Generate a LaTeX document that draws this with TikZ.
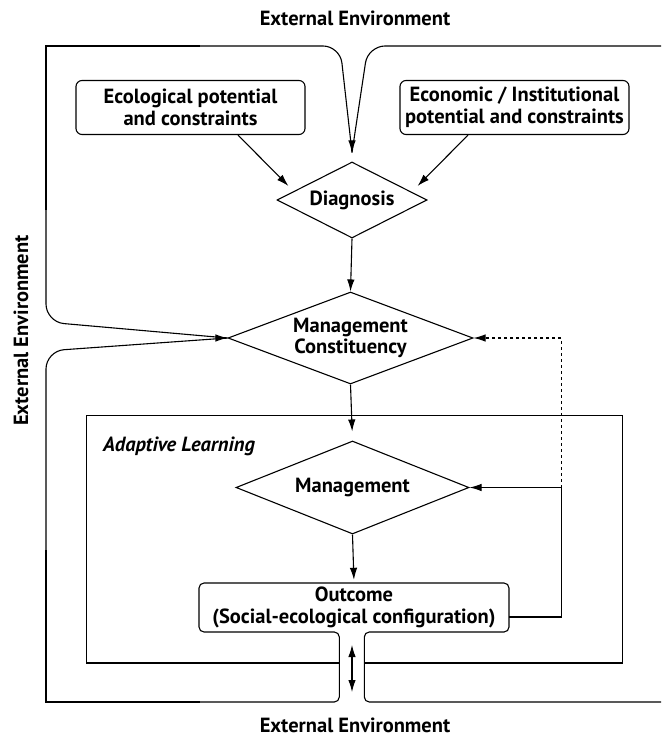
\documentclass[tikz,border=0pt]{standalone}
\usepackage{fontspec}
\setmainfont{PT Sans}
\usetikzlibrary{shapes.geometric,arrows.meta,calc}
\tikzset{
  base/.style={font=\fontsize{20.5}{21.5}\selectfont\bfseries, align=center},
  rbox/.style={base, draw, line width=1.1pt, rounded corners=6pt, minimum width=229pt, minimum height=54pt, inner sep=0pt},
  dia/.style={base, draw, line width=1.1pt, diamond, inner sep=0pt, aspect=2.6},
  arr/.style={-{Latex[length=12pt,width=7.5pt]}},
  ln/.style={line width=1.1pt},
  lbl/.style={font=\fontsize{20.5}{21.5}\selectfont\bfseries, inner sep=0pt, anchor=base}
}
\begin{document}
\begin{tikzpicture}[x=1pt,y=-1pt]
\useasboundingbox (0,0) rectangle (661,738);
% labels
\node[lbl] (ttop) at (355,26) {External Environment};
\node[lbl] (tbot) at (355,732) {External Environment};
\node[lbl, rotate=90] (tleft) at (28,330.5) {External Environment};
% nodes
\node[rbox] (eco) at (190.5,107.5) {Ecological potential\\and constraints};
\node[rbox] (econ) at (514.5,107.5) {Economic / Institutional\\potential and constraints};
\node[dia, minimum width=150pt, minimum height=76pt] (diag) at (352,200) {Diagnosis};
\node[dia, minimum width=245pt, minimum height=92pt] (mc) at (350.5,338) {Management\\Constituency};
\node[dia, minimum width=233pt, minimum height=93pt] (mgmt) at (352.5,487.5) {Management};
\node[base, minimum width=310pt, minimum height=49pt, inner sep=0pt] (outcome) at (354,607.5) {Outcome\\(Social-ecological configuration)};
\node[font=\fontsize{20.5}{21.5}\selectfont\bfseries\itshape, anchor=west, inner sep=0pt] (al) at (103,446) {Adaptive Learning};
% coordinates
\coordinate (dtip) at ($(diag.north)+(0,-9)$);
\coordinate (fb) at (561.5,487.5);
\coordinate (oc) at (509,617);
\coordinate (up) at (352,645);
\coordinate (dn) at (352,692);
% frame top
\draw[ln, rounded corners=18pt] (mc.west) -- (46,322) -- (46,200);
\draw[ln] (46,210) -- (46,46) -- (200,46);
\draw[ln, rounded corners=17pt] (190,46) -- (340,46) -- (dtip);
\draw[ln, rounded corners=17pt] (661,46) -- (368,46) -- (dtip);
\draw[ln, arr] ($(dtip)+(0,-1)$) -- (dtip);
% frame bottom
\draw[ln, rounded corners=18pt] (mc.west) -- (46,351) -- (46,560);
\draw[ln] (46,550) -- (46,702) -- (200,702);
\draw[ln, rounded corners=5pt] (190,702) -- (339.3,702) -- (339.3,632) -- (199,632) -- (199,583) -- (509,583) -- (509,632) -- (364.3,632) -- (364.3,702) -- (661,702);
\draw[ln, arr] ($(mc.west)+(-1,0)$) -- (mc.west);
% inner box
\draw[ln] (339.3,663) -- (86.7,663) -- (86.7,415.7) -- (622.7,415.7) -- (622.7,663) -- (364.3,663);
% arrows
\draw[ln, arr] ($(eco.south)+(47.5,0)$) -- ($(diag.west)+(12,-14)$);
\draw[ln, arr] ($(econ.south)+(-46.5,0)$) -- ($(diag.east)+(-10,-14)$);
\draw[ln, arr] (diag.south) -- (mc.north);
\draw[ln, arr, shorten >=9pt] (mc.south) -- (mgmt.north);
\draw[ln, arr, shorten >=3pt] (mgmt.south) -- (outcome.north);
\draw[ln, arr] (oc) -| (fb) -- (mgmt.east);
\draw[ln, dashed, arr] (fb) |- (mc.east);
\draw[ln, {Latex[length=12pt,width=7.5pt]}-{Latex[length=12pt,width=7.5pt]}] (up) -- (dn);
\end{tikzpicture}
\end{document}
